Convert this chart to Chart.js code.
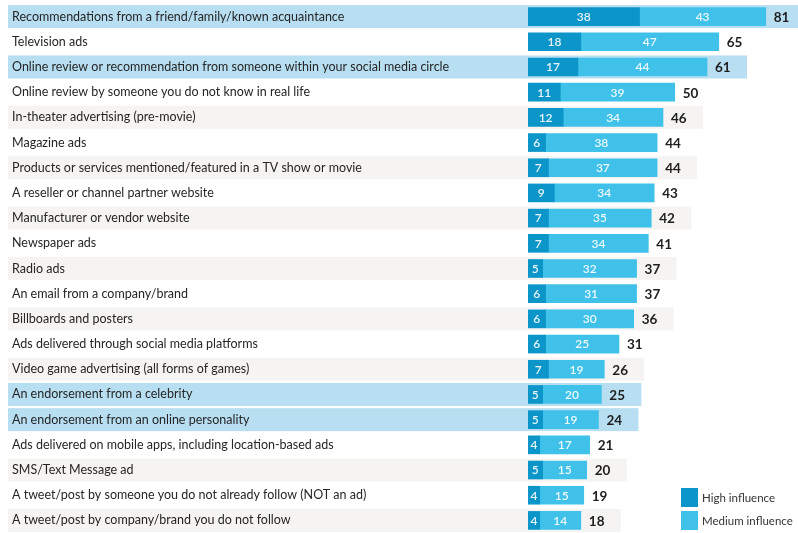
<!DOCTYPE html>
<html>
<head>
<meta charset="utf-8">
<script src="https://cdn.jsdelivr.net/npm/chart.js@4.4.1/dist/chart.umd.min.js"></script>
<style>
  html, body { margin: 0; padding: 0; background: #fff; }
  #wrap { position: relative; width: 798px; height: 533px; }
</style>
</head>
<body>
<div id="wrap"><canvas id="chart"></canvas></div>
<script>
// ================== DATA ==================
const categories = [
  'Recommendations from a friend/family/known acquaintance',
  'Television ads',
  'Online review or recommendation from someone within your social media circle',
  'Online review by someone you do not know in real life',
  'In-theater advertising (pre-movie)',
  'Magazine ads',
  'Products or services mentioned/featured in a TV show or movie',
  'A reseller or channel partner website',
  'Manufacturer or vendor website',
  'Newspaper ads',
  'Radio ads',
  'An email from a company/brand',
  'Billboards and posters',
  'Ads delivered through social media platforms',
  'Video game advertising (all forms of games)',
  'An endorsement from a celebrity',
  'An endorsement from an online personality',
  'Ads delivered on mobile apps, including location-based ads',
  'SMS/Text Message ad',
  'A tweet/post by someone you do not already follow (NOT an ad)',
  'A tweet/post by company/brand you do not follow'
];
const highInfluence   = [38, 18, 17, 11, 12, 6, 7, 9, 7, 7, 5, 6, 6, 6, 7, 5, 5, 4, 5, 4, 4];
const mediumInfluence = [43, 47, 44, 39, 34, 38, 37, 34, 35, 34, 32, 31, 30, 25, 19, 20, 19, 17, 15, 15, 14];
const totals          = [81, 65, 61, 50, 46, 44, 44, 43, 42, 41, 37, 37, 36, 31, 26, 25, 24, 21, 20, 19, 18];
const highlighted     = [0, 2, 15, 16];

const DARK = '#0b95c9', LIGHT = '#3fc1e9';
const FONT = 'Lato, "Open Sans", sans-serif';

// ================== PLUGINS ==================
// row bands go under the axis labels, so paint them before anything else
const rowBands = {
  id: 'rowBands',
  beforeDraw(chart) {
    const { ctx, scales: { x, y } } = chart;
    ctx.save();
    categories.forEach((c, i) => {
      const hl = highlighted.includes(i);
      if (!hl && i % 2 !== 0) return;
      const cy = y.getPixelForValue(i);
      const right = Math.min(chart.width, x.getPixelForValue(totals[i]) + 40);
      ctx.fillStyle = hl ? '#b7def1' : '#f5f4f2';
      ctx.fillRect(8, cy - 11.5, right - 8, 23);
    });
    ctx.restore();
  }
};

const valueLabels = {
  id: 'valueLabels',
  afterDatasetsDraw(chart) {
    const { ctx, scales: { x, y } } = chart;
    ctx.save();
    ctx.textBaseline = 'middle';
    chart.data.datasets.forEach((ds, di) => {
      chart.getDatasetMeta(di).data.forEach((bar, i) => {
        const cx = (bar.x + bar.base) / 2;
        ctx.fillStyle = 'rgba(255,255,255,0.9)';
        ctx.font = '600 12px ' + FONT;
        ctx.textAlign = 'center';
        ctx.fillText(ds.data[i], cx, bar.y + 0.5);
      });
    });
    ctx.fillStyle = '#1e1e1e';
    ctx.font = 'bold 13.5px ' + FONT;
    ctx.textAlign = 'left';
    totals.forEach((t, i) => {
      ctx.fillText(t, x.getPixelForValue(t) + 8, y.getPixelForValue(i) + 1);
    });
    ctx.restore();
  }
};

const sideLegend = {
  id: 'sideLegend',
  afterDraw(chart) {
    const { ctx } = chart;
    ctx.save();
    ctx.textBaseline = 'middle';
    ctx.textAlign = 'left';
    ctx.font = '11.5px ' + FONT;
    chart.data.datasets.forEach((ds, i) => {
      const top = 488 + i * 23;
      ctx.fillStyle = ds.backgroundColor;
      ctx.fillRect(681, top, 17, 19);
      ctx.fillStyle = '#333';
      ctx.fillText(ds.label, 702, top + 10);
    });
    ctx.restore();
  }
};

// ================== CHART ==================
new Chart(document.getElementById('chart'), {
  type: 'bar',
  data: {
    labels: categories,
    datasets: [
      { label: 'High influence', data: highInfluence, backgroundColor: DARK, barThickness: 18 },
      { label: 'Medium influence', data: mediumInfluence, backgroundColor: LIGHT, barThickness: 18 }
    ]
  },
  options: {
    indexAxis: 'y',
    responsive: true,
    maintainAspectRatio: false,
    animation: false,
    layout: { padding: { left: 12, right: 0, top: 4, bottom: 0 } },
    plugins: { legend: { display: false }, tooltip: { enabled: false } },
    scales: {
      x: { stacked: true, display: false, min: 0, max: 92 },
      y: {
        stacked: true,
        grid: { display: false },
        border: { display: false },
        afterFit(s) { s.width = 516; s.paddingTop = 0; s.paddingBottom = 0; },
        ticks: {
          crossAlign: 'far',
          padding: 0,
          color: '#262626',
          font: { family: FONT, size: 12.5 },
          autoSkip: false
        }
      }
    }
  },
  plugins: [rowBands, valueLabels, sideLegend]
});
</script>
</body>
</html>
